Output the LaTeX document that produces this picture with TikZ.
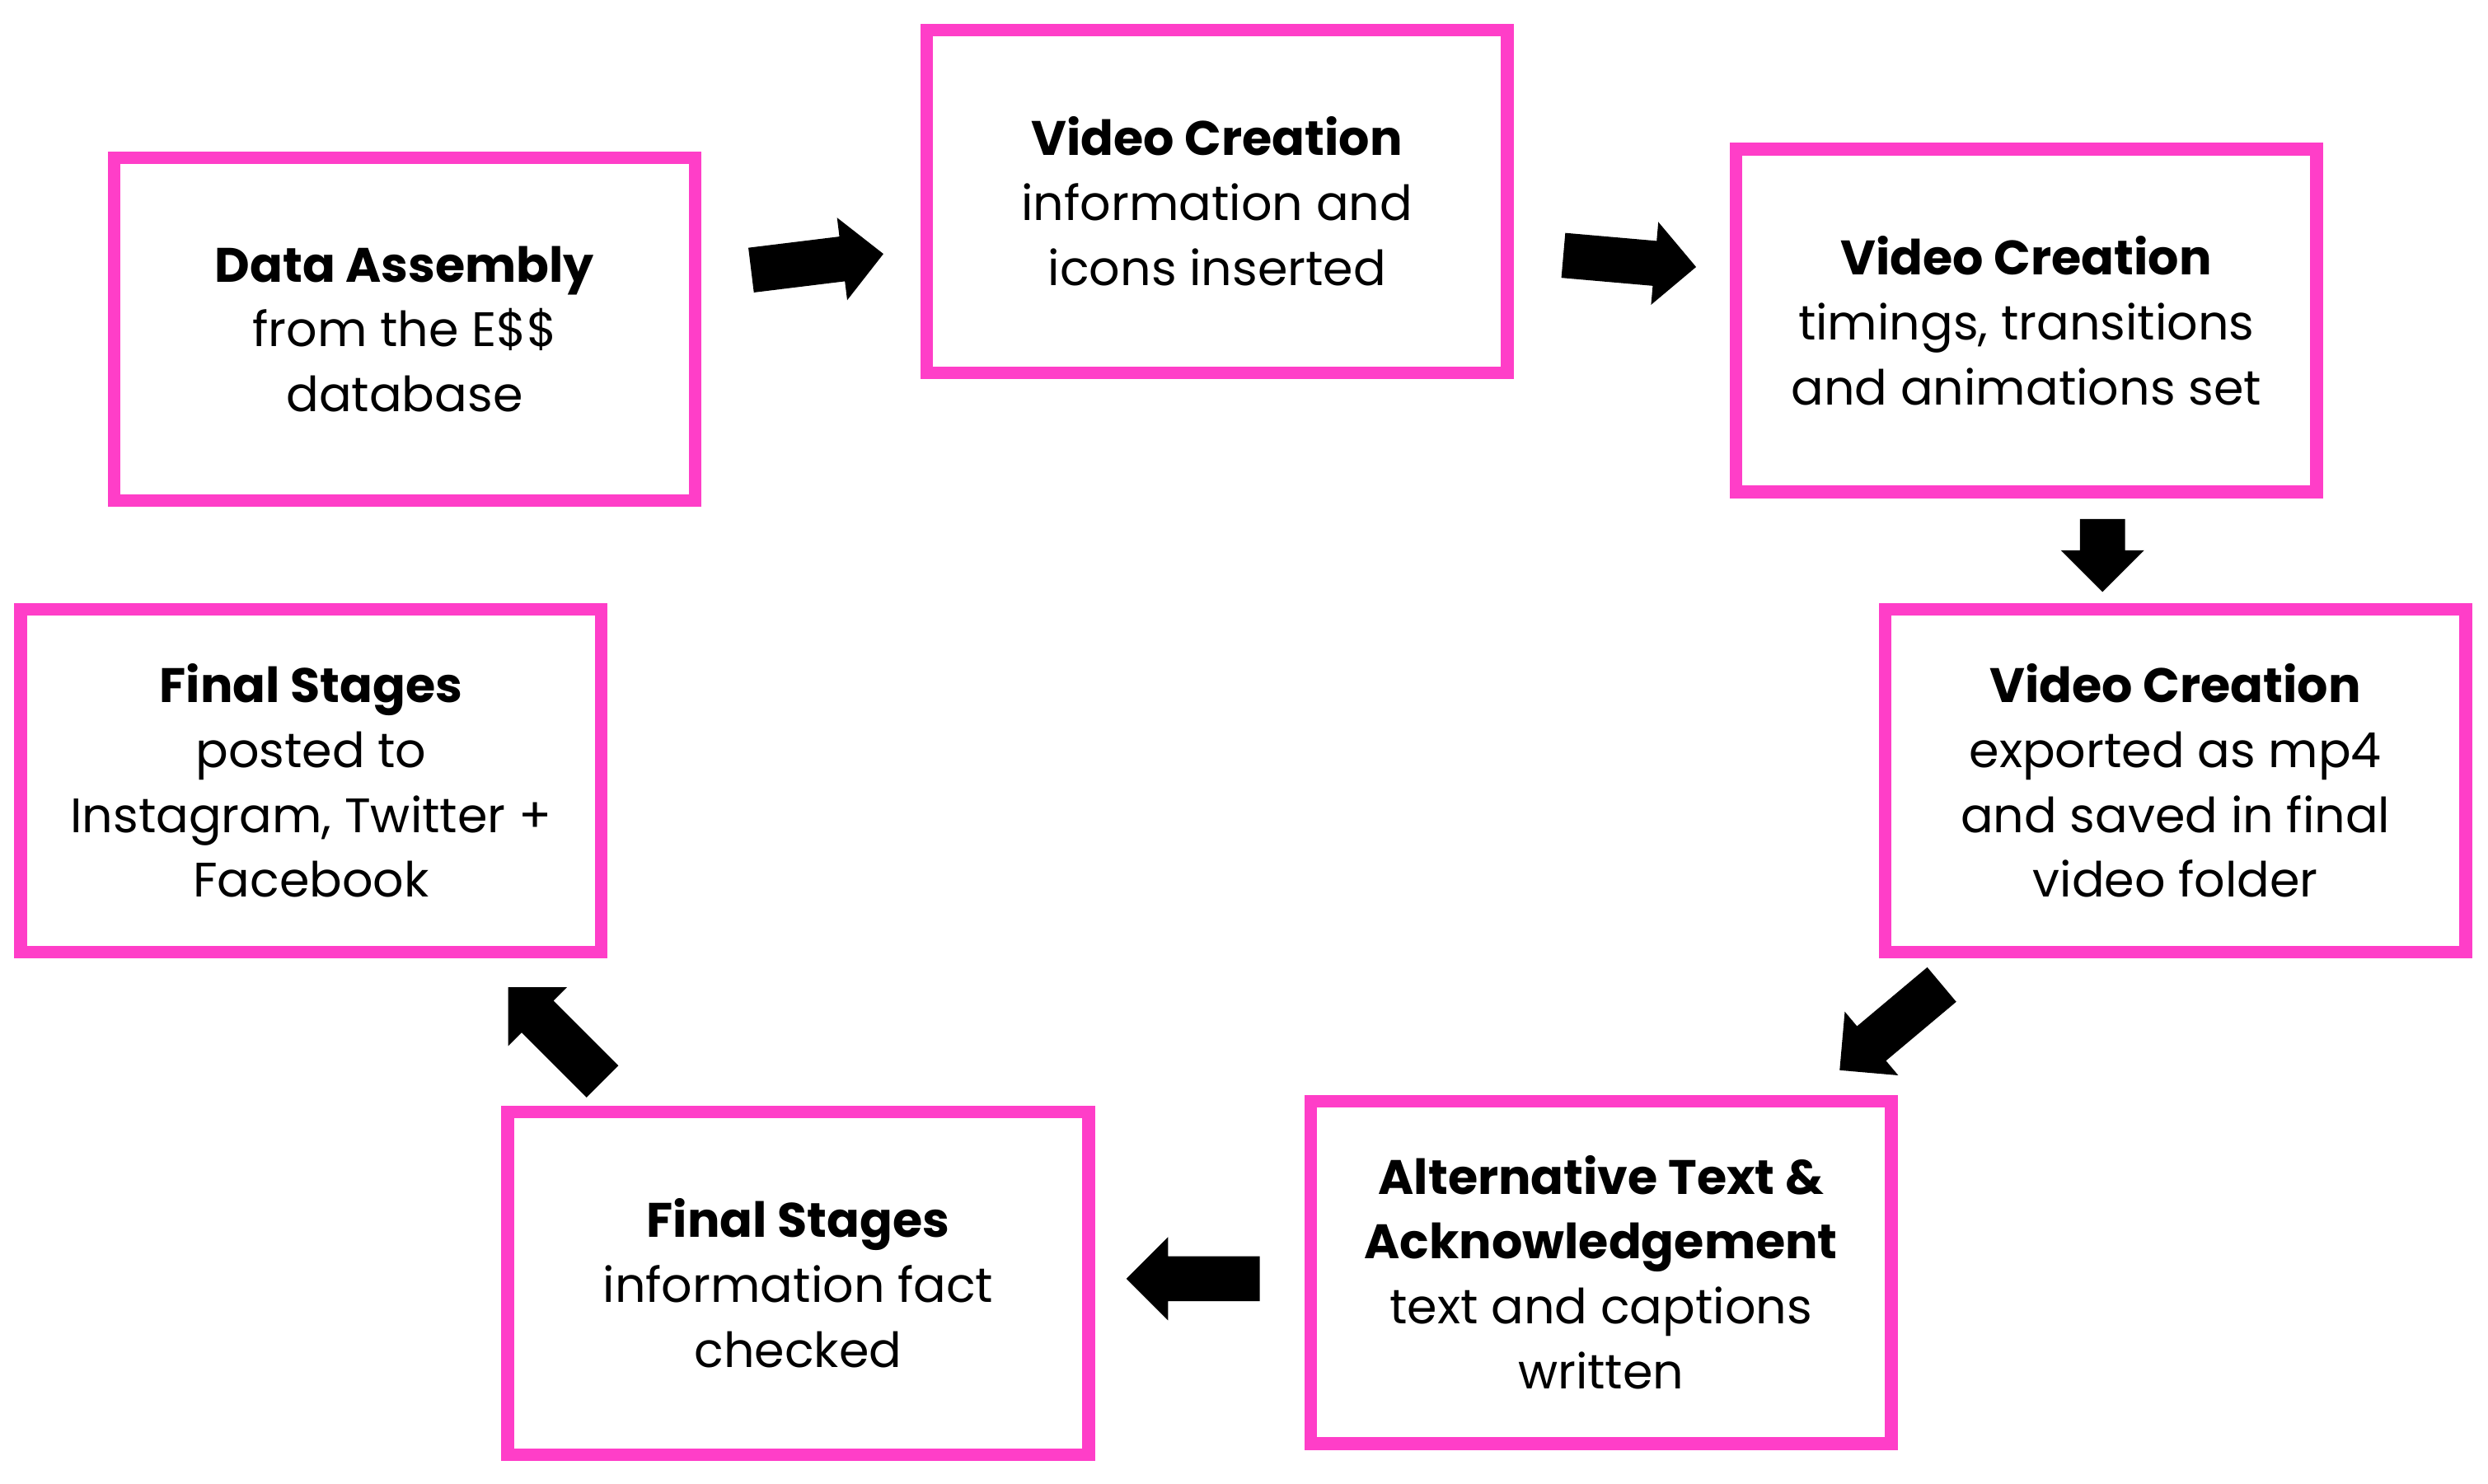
\documentclass[tikz,border=0pt]{standalone}
\usepackage{fontspec}
\setmainfont{Poppins}
\usetikzlibrary{shapes.arrows}
\definecolor{mag}{HTML}{FF3EC8}
\begin{document}
\begin{tikzpicture}[x=1pt,y=-1pt,
 box/.style={draw=mag,line width=8pt,minimum width=366pt,minimum height=216pt,align=center,font=\fontsize{30.5}{41}\selectfont,inner sep=0pt},
 arr/.style={single arrow,fill=black,draw=none,minimum height=84pt,single arrow head extend=12pt,inner sep=0pt,minimum width=52pt,text height=28pt,text depth=0pt,text width=1pt}]
\useasboundingbox (0,0) rectangle (1568,935);
\node[box] (b1) at (255,207.5) {\textbf{Data Assembly}\\from the E\$\$\\database};
\node[box] (b2) at (767,127) {\textbf{Video Creation}\\information and\\icons inserted};
\node[box] (b3) at (1277,202) {\textbf{Video Creation}\\timings, transitions\\and animations set};
\node[box] (b4) at (1371,492) {\textbf{Video Creation}\\exported as mp4\\and saved in final\\video folder};
\node[box] (b5) at (1009,802) {\textbf{Alternative Text \&}\\\textbf{Acknowledgement}\\text and captions\\written};
\node[box] (b6) at (503,809) {\textbf{Final Stages}\\information fact\\checked};
\node[box] (b7) at (196,492) {\textbf{Final Stages}\\posted to\\Instagram, Twitter +\\Facebook};
\node[arr,rotate=7] (a1) at (508,166) {};
\node[arr,rotate=-5] (a2) at (1020,164) {};
\node[arr,rotate=-90,minimum height=46pt] (a3) at (1325,343) {};
\node[arr,rotate=-140] (a4) at (1197,643) {};
\node[arr,rotate=180] (a5) at (759,806) {};
\node[arr,rotate=135] (a6) at (355,657) {};
\end{tikzpicture}
\end{document}
